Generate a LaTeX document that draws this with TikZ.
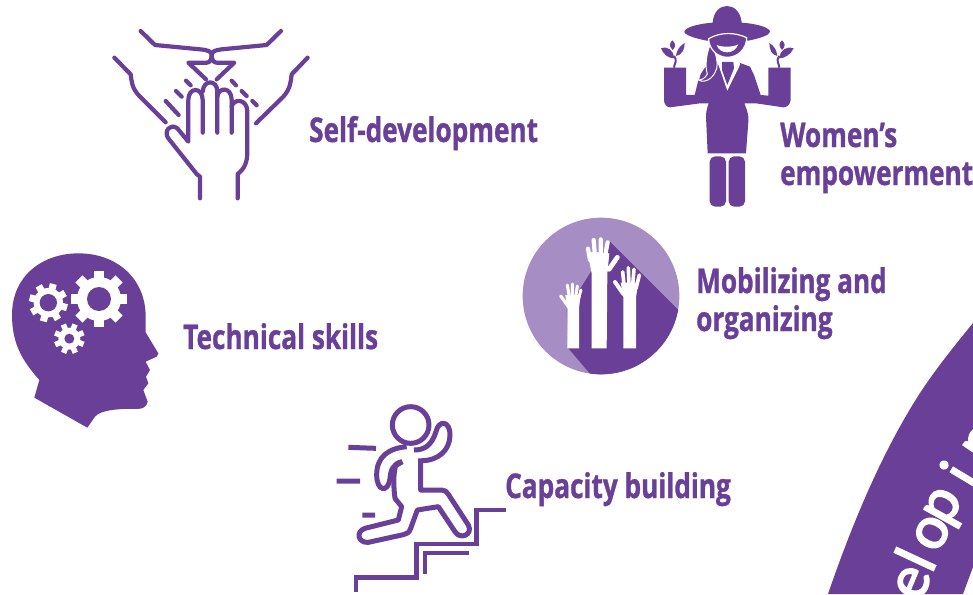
\documentclass[tikz,border=0pt]{standalone}
\usepackage{fontspec}
\setmainfont{Open Sans}[FakeStretch=0.77,BoldFont={Open Sans Bold},BoldFeatures={FakeBold=1}]
\newfontfamily\arcfont{Lato}[FakeBold=3]
\definecolor{pur}{HTML}{6A3F98}
\definecolor{lpur}{HTML}{A68DC3}
\tikzset{
 lab/.style={anchor=base west,inner sep=0pt,text=pur,font=\fontsize{34}{38}\selectfont\bfseries},
 ln/.style={draw=pur,line width=#1,line cap=round,line join=round},
 ln/.default=4.2pt,
 run/.style={draw=pur,line width=5pt,line join=round},
 sq/.style={draw=pur,line width=4.5pt,line join=miter},
 wf/.style={draw=white,line width=#1,line cap=round},
 icon/.style={scale=1/3},
}
\newcommand{\gearfig}[6]{% cx cy outer body width rot
 \fill[white] (#1,#2) circle (#4);
 \foreach \a in {0,45,...,315}{
   \draw[white,line width=#5] (#1,#2) ++(\a+#6:#4-3) -- ++(\a+#6:#3-#4+3);
 }
}
\begin{document}
\begin{tikzpicture}[x=1pt,y=-1pt]
\useasboundingbox (0,0) rectangle (973,594);
\clip (0,0) rectangle (973,594);

% ---- hand icon
\begin{scope}[shift={(100,20)},icon]
 \draw[ln] (122,33)--(165,75)--(300,88) .. controls (325,90) and (335,95) .. (335,105) .. controls (335,118) and (330,128) .. (320,128) -- (265,128) -- (318,178);
 \draw[ln] (543,33)--(500,75)--(365,88) .. controls (345,90) and (335,95) .. (335,105) .. controls (335,118) and (340,128) .. (350,128) -- (403,128) -- (350,178);
 \draw[ln] (43,113)--(92,163) .. controls (95,185) and (95,205) .. (120,230) -- (197,307);
 \draw[ln] (623,113)--(575,163) .. controls (572,185) and (572,205) .. (550,230) -- (468,310);
 \draw[ln] (197,243)--(236,285) (228,213)--(245,230) (258,182)--(272,196);
 \draw[ln] (395,182)--(408,196) (425,213)--(440,228) (457,243)--(470,256);
 \draw[ln] (300,535)--(300,470)--(290,462)--(205,355) .. controls (190,335) and (210,308) .. (232,325) -- (265,365) -- (265,240) .. controls (265,200) and (308,200) .. (308,240) -- (308,338);
 \draw[ln] (308,215) .. controls (310,178) and (352,178) .. (352,215) -- (352,338);
 \draw[ln] (352,230) .. controls (355,200) and (395,200) .. (395,240) -- (395,338);
 \draw[ln] (395,260) .. controls (400,235) and (442,235) .. (442,275) -- (442,395) .. controls (442,425) and (435,445) .. (413,462) -- (413,535);
\end{scope}
\node[lab] (selfdev) at (309,142) {Self-development};

% ---- woman icon
\begin{scope}[shift={(650,0)},icon]
 % hat
 \fill[pur] (188,68) .. controls (190,35) and (210,18) .. (231,18) .. controls (252,18) and (272,35) .. (275,68) .. controls (330,72) and (360,85) .. (360,95) .. controls (360,105) and (330,115) .. (295,122) -- (170,122) .. controls (135,115) and (103,105) .. (103,95) .. controls (103,85) and (135,72) .. (188,68) -- cycle;
 % plants
 \draw[pur,line width=2pt] (72,203) .. controls (72,190) and (84,185) .. (72,168);
 \draw[pur,line width=2pt] (388,203) .. controls (388,190) and (376,185) .. (388,168);
 \fill[pur] (72,175) .. controls (55,175) and (40,163) .. (33,145) .. controls (55,138) and (70,150) .. (72,175) -- cycle;
 \fill[pur] (78,168) .. controls (80,150) and (90,137) .. (104,129) .. controls (104,150) and (95,165) .. (78,168) -- cycle;
 \fill[pur] (68,150) .. controls (56,138) and (58,130) .. (67,121) .. controls (77,130) and (79,140) .. (68,150) -- cycle;
 \fill[pur] (388,175) .. controls (405,175) and (422,163) .. (431,145) .. controls (408,138) and (390,150) .. (388,175) -- cycle;
 \fill[pur] (382,168) .. controls (380,150) and (372,137) .. (358,129) .. controls (358,150) and (366,165) .. (382,168) -- cycle;
 \fill[pur] (396,150) .. controls (386,138) and (386,130) .. (396,121) .. controls (406,130) and (407,140) .. (396,150) -- cycle;
 % body with pots and arms
 \fill[pur] (42,203) -- (108,203) -- (108,285) -- (134,285) -- (148,228) -- (168,198) -- (205,190) -- (232,270) -- (268,200) -- (268,188) -- (300,200) -- (312,225) -- (332,285) -- (355,287) -- (355,203) -- (422,203) -- (422,300) .. controls (420,315) and (410,322) .. (400,322) -- (318,310) -- (283,310) .. controls (293,335) and (297,350) .. (295,365) -- (288,460) -- (173,460) -- (168,350) .. controls (168,335) and (172,320) .. (176,310) -- (150,310) -- (60,322) .. controls (50,322) and (42,312) .. (42,300) -- cycle;
 % collar
 \fill[white] (203,188) -- (232,272) -- (270,192) -- (262,180) -- (205,180) -- cycle;
 \fill[pur] (216,186) -- (250,186) -- (252,205) -- (232,255) -- (216,210) -- cycle;
 % hair
 \fill[pur,draw=white,line width=1pt] (180,135) .. controls (168,165) and (165,200) .. (172,222) .. controls (165,235) and (155,240) .. (146,240) .. controls (160,250) and (190,240) .. (200,205) .. controls (205,180) and (195,160) .. (190,140) -- cycle;
 \draw[white,line width=1pt] (146,240) .. controls (150,215) and (155,205) .. (168,198);
 % head
 \fill[pur,draw=white,line width=1.2pt] (176,116) .. controls (210,96) and (255,96) .. (290,113) .. controls (290,145) and (265,172) .. (232,172) .. controls (200,172) and (176,145) .. (176,116) -- cycle;
 \fill[white] (200,135) .. controls (215,142) and (250,142) .. (265,133) .. controls (258,150) and (245,157) .. (232,157) .. controls (218,157) and (205,150) .. (200,135) -- cycle;
 % legs
 \fill[pur,rounded corners=5.5pt] (179,469) rectangle (228,620);
 \fill[pur,rounded corners=5.5pt] (236,469) rectangle (285,620);
\end{scope}
\node[lab] (women) at (780,147) {Women’s};
\node[lab] (empower) at (780,185) {empowerment};

% ---- circle icon
\begin{scope}[shift={(510,210)},icon]
 \fill[lpur] (273,258) circle (235);
 \begin{scope}
  \clip (273,258) circle (235);
  \fill[pur] (300,95) -- (620,415) -- (350,620) -- (175,415) -- (170,300) -- cycle;
 \end{scope}
 % middle hand
 \fill[white] (245,415) -- (245,190) -- (232,125) -- (298,130) -- (292,190) -- (290,415) -- cycle;
 \draw[wf=4.2pt] (234,116)--(240,150) (251,90)--(255,140) (272,88)--(272,140) (293,97)--(285,140);
 \draw[wf=4.8pt] (322,142)--(297,178);
 % right hand
 \fill[white] (340,415) -- (340,262) -- (332,218) -- (385,218) -- (378,262) -- (378,415) -- cycle;
 \draw[wf=3.6pt] (338,185)--(342,225) (355,173)--(357,225) (372,178)--(368,225) (388,195)--(378,235);
 \draw[wf=4pt] (315,216)--(340,252);
 % left hand
 \fill[white] (172,415) -- (172,295) -- (166,255) -- (212,255) -- (207,295) -- (207,415) -- cycle;
 \draw[wf=3pt] (172,225)--(178,262) (187,222)--(187,262) (202,228)--(197,262) (213,240)--(205,268);
 \draw[wf=3.2pt] (152,258)--(175,290);
\end{scope}
\node[lab] (mobil) at (696,293) {Mobilizing and};
\node[lab] (organ) at (696,331) {organizing};

% ---- head icon
\begin{scope}[shift={(0,245)},icon]
 \fill[pur] (103,458) -- (118,405) .. controls (70,350) and (36,300) .. (36,210) .. controls (36,90) and (130,25) .. (235,25) .. controls (350,25) and (437,100) .. (437,215) -- (437,262) -- (475,325) -- (470,335) -- (437,350) -- (450,375) -- (438,395) -- (445,415) -- (430,435) -- (443,470) .. controls (440,485) and (430,492) .. (410,492) .. controls (360,490) and (300,495) .. (285,515) -- (262,548) -- cycle;
 \gearfig{297}{162}{85}{66}{10pt}{0}
 \fill[pur] (297,162) circle (36);
 \gearfig{145}{173}{58}{44}{7pt}{15}
 \fill[pur] (145,173) circle (26);
 \gearfig{208}{281}{46}{33}{5.5pt}{22}
 \fill[pur] (208,281) circle (15);
\end{scope}
\node[lab] (tech) at (183,349) {Technical skills};

% ---- runner icon
\begin{scope}[shift={(330,400)},icon]
 \draw[run] (242,75) circle (55);
 \draw[run] (252,150) .. controls (285,150) and (305,135) .. (318,95) .. controls (325,60) and (360,60) .. (360,105) .. controls (360,150) and (325,182) .. (275,182);
 \draw[run] (272,175) -- (272,270) -- (335,270) .. controls (345,270) and (350,275) .. (355,283) -- (415,375) .. controls (430,405) and (390,420) .. (375,395) -- (325,320) -- (262,330) -- (242,385) .. controls (238,398) and (230,402) .. (220,404) -- (115,427) .. controls (85,430) and (75,395) .. (105,385) -- (205,360) -- (215,320) -- (195,295) .. controls (190,260) and (190,220) .. (197,197) -- (217,185);
 \draw[run] (230,140) .. controls (175,145) and (140,170) .. (140,225) .. controls (140,275) and (175,280) .. (180,235) .. controls (182,210) and (190,190) .. (217,185);
 \draw[run] (55,142)--(138,145) (20,243)--(90,243) (97,345)--(135,345);
 \draw[sq] (78,576)--(78,533)--(260,533)--(260,432)--(440,432)--(440,330)--(527,330);
 \draw[sq] (285,522)--(285,459)--(418,459);
\end{scope}
\node[lab] (cap) at (505,498) {Capacity building};

% ---- big arc
\fill[pur] (828,594) .. controls (850,530) and (880,455) .. (920,393) .. controls (935,370) and (955,345) .. (973,323) -- (973,567) -- (963,594) -- cycle;
\tikzset{arcl/.style={text=white,inner sep=0pt,font=\arcfont\fontsize{58}{58}\selectfont}}
\node[arcl,rotate=67] (ltE) at (913,583) {e};
\node[arcl,rotate=65] (ltL) at (915,559) {l};
\node[arcl,rotate=63] (ltO) at (932,533) {o};
\node[arcl,rotate=61] (ltP) at (947,508) {p};
\node[arcl,rotate=59] (ltI) at (959,474) {i};
\node[arcl,rotate=56] (ltN) at (982,443) {n};
\end{tikzpicture}
\end{document}
